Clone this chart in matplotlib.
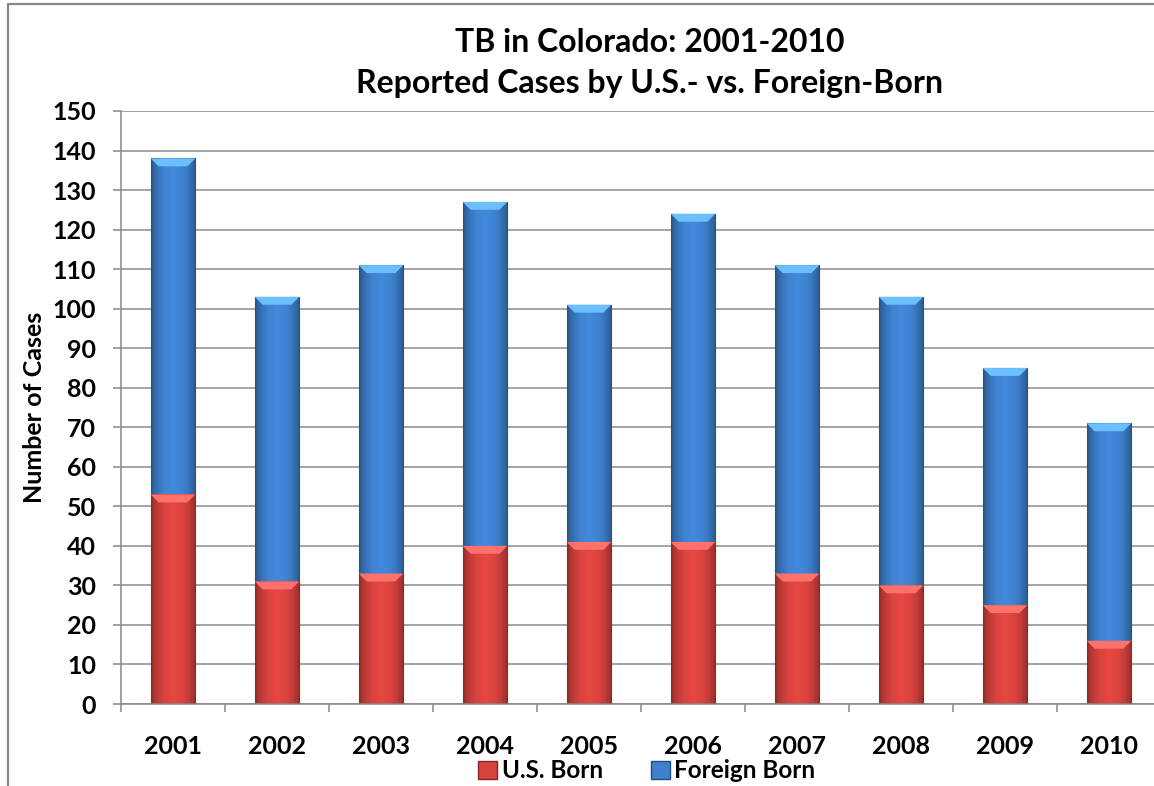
import numpy as np
import matplotlib
matplotlib.use('Agg')
import matplotlib.pyplot as plt
from matplotlib.lines import Line2D
from matplotlib.patches import Polygon, Patch

years = ['2001', '2002', '2003', '2004', '2005', '2006', '2007', '2008', '2009', '2010']
us_born = [53, 31, 33, 40, 41, 41, 33, 30, 25, 16]
total_cases = [138, 103, 111, 127, 101, 124, 111, 103, 85, 71]
foreign_born = [t - u for t, u in zip(total_cases, us_born)]
yticks = list(range(0, 151, 10))

RED = np.array([214, 66, 62]) / 255
BLUE = np.array([62, 128, 204]) / 255

plt.rcParams['font.family'] = ['Lato', 'DejaVu Sans']
plt.rcParams['font.weight'] = 'bold'

W, H = 1154, 786
fig = plt.figure(figsize=(W / 100, H / 100), dpi=100)
ax = fig.add_axes([121 / W, 1 - 704 / H, 1040 / W, 593 / H])


def shade_bars(ax, bars, base):
    # horizontal shading: darker at both sides, lighter towards the middle
    t = np.linspace(0, 1, 80)
    prof = 0.62 + 0.45 * np.sin(np.pi * t) ** 0.6
    img = np.clip(base[None, :] * prof[:, None], 0, 1)[None, :, :]
    for bar in bars:
        x0, y0 = bar.get_x(), bar.get_y()
        w, h = bar.get_width(), bar.get_height()
        im = ax.imshow(img, extent=[x0, x0 + w, y0, y0 + h], aspect='auto',
                       interpolation='bilinear', zorder=2.1)
        im.set_clip_path(bar)
        cap = min(2.0, h * 0.3)
        inset = w * 0.18
        top = y0 + h
        light = np.clip(base * 1.25 + 0.12, 0, 1)
        ax.add_patch(Polygon([[x0, top], [x0 + w, top], [x0 + w - inset, top - cap],
                              [x0 + inset, top - cap]], closed=True,
                             facecolor=light, edgecolor='none', zorder=2.2))


x = np.arange(len(years))
width = 0.43
b1 = ax.bar(x, us_born, width, color=RED, zorder=2, edgecolor=RED * 0.6, linewidth=0.8)
b2 = ax.bar(x, foreign_born, width, bottom=us_born, color=BLUE, zorder=2,
            edgecolor=BLUE * 0.6, linewidth=0.8)
shade_bars(ax, b1, RED)
shade_bars(ax, b2, BLUE)

ax.set_xlim(-0.5, len(years) - 0.5)
ax.set_ylim(0, 150)
ax.set_yticks(yticks)
ax.set_yticklabels([str(v) for v in yticks], fontsize=18, fontweight='bold')
ax.set_xticks(x)
ax.set_xticklabels(years, fontsize=18, fontweight='bold')
ax.set_xticks(np.arange(len(years) + 1) - 0.5, minor=True)
ax.tick_params(axis='x', which='major', length=0, pad=22)
ax.tick_params(axis='x', which='minor', length=6, color='#888888', width=1.1)
ax.tick_params(axis='y', length=6, color='#888888', width=1.1, pad=12)
ax.yaxis.grid(True, color='#8c8c8c', linewidth=1.1)
ax.set_axisbelow(True)
for s in ['top', 'right']:
    ax.spines[s].set_visible(False)
for s in ['left', 'bottom']:
    ax.spines[s].set_color('#888888')
    ax.spines[s].set_linewidth(1.1)
ax.set_ylabel('Number of Cases', fontsize=18, fontweight='bold')
ax.yaxis.set_label_coords(-75 / 1040, 0.5)

fig.text(650 / W, 1 - 42 / H, 'TB in Colorado: 2001-2010', ha='center', va='center',
         fontsize=23, fontweight='bold')
fig.text(650 / W, 1 - 84 / H, 'Reported Cases by U.S.- vs. Foreign-Born', ha='center',
         va='center', fontsize=23, fontweight='bold')

handles = [Patch(facecolor=RED, edgecolor=RED * 0.6), Patch(facecolor=BLUE, edgecolor=BLUE * 0.6)]
fig.legend(handles, ['U.S. Born', 'Foreign Born'], loc='center', ncol=2,
           bbox_to_anchor=(647 / W, 1 - 771 / H), frameon=False,
           prop={'weight': 'bold', 'size': 17.5}, handlelength=0.75, handleheight=0.75,
           handletextpad=0.2, columnspacing=2.0, borderpad=0)

# frame of the original page crop
fig.add_artist(Line2D([8 / W, 8 / W, 1], [0, 1 - 4 / H, 1 - 4 / H], color='#888888',
                      linewidth=1.6, transform=fig.transFigure))

fig.savefig('out.png', dpi=100)
